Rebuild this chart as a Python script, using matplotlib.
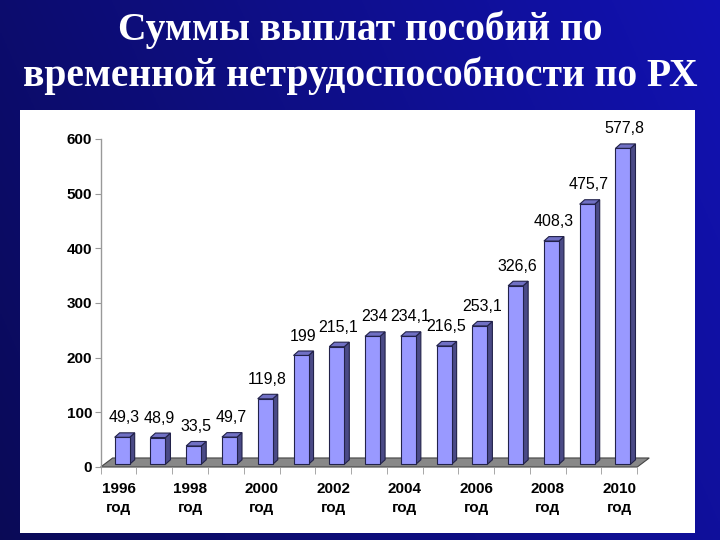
import numpy as np
import matplotlib
matplotlib.use("Agg")
import matplotlib.pyplot as plt
from matplotlib.patches import Polygon, Rectangle

years = ["1996", "1997", "1998", "1999", "2000", "2001", "2002", "2003",
         "2004", "2005", "2006", "2007", "2008", "2009", "2010"]
values = [49.3, 48.9, 33.5, 49.7, 119.8, 199, 215.1, 234, 234.1, 216.5,
          253.1, 326.6, 408.3, 475.7, 577.8]
labels = ["49,3", "48,9", "33,5", "49,7", "119,8", "199", "215,1", "234",
          "234,1", "216,5", "253,1", "326,6", "408,3", "475,7", "577,8"]
title = "Суммы выплат пособий по\nвременной нетрудоспособности по РХ"

W, H = 720, 540
fig = plt.figure(figsize=(7.2, 5.4), dpi=100)

# slide background
bg = fig.add_axes([0, 0, 1, 1], zorder=-10)
gx = np.linspace(0, 1, 300)
gy = np.linspace(0, 1, 200)
GX, GY = np.meshgrid(gx, gy)
t = np.clip(0.75 * GX + 0.25 * (1 - GY), 0, 1)
c0 = np.array([0.04, 0.04, 0.34])
c1 = np.array([0.07, 0.07, 0.70])
img = c0[None, None, :] * (1 - t[..., None]) + c1[None, None, :] * t[..., None]
bg.imshow(img, extent=[0, 1, 0, 1], aspect="auto", origin="upper")
bg.set_xlim(0, 1)
bg.set_ylim(0, 1)
bg.axis("off")
bg.add_patch(Rectangle((20 / W, 1 - 533 / H), 675 / W, 423 / H,
                       facecolor="white", edgecolor="none"))

fig.text(0.5, 1 - 53 / H, title, ha="center", va="center", color="white",
         fontsize=28.5, fontweight="bold", family="Liberation Serif",
         linespacing=1.25)

ax = fig.add_axes([100.7 / W, 1 - 467 / H, 547.3 / W, 328 / H])
ax.set_facecolor("none")
ax.set_xlim(-0.5, 14.8)
ax.set_ylim(0, 600)

# floor
fdx, fdy = 0.335, 16.5
ax.add_patch(Polygon([(-0.5, 0), (14.5, 0), (14.5 + fdx, fdy), (-0.5 + fdx, fdy)],
                     closed=True, facecolor="#888888", edgecolor="#444444",
                     lw=0.8, zorder=1, clip_on=False))

x = np.arange(len(values))
bw = 0.42
lift = 5
dx, dy = 0.14, 8.2
xc = x + 0.1
ax.bar(xc, values, width=bw, bottom=lift, color="#9999ff", edgecolor="#22224a",
       linewidth=0.8, zorder=3)
for xi, v, lab in zip(xc, values, labels):
    l, r = xi - bw / 2, xi + bw / 2
    top = v + lift
    ax.add_patch(Polygon([(r, lift), (r + dx, lift + dy), (r + dx, top + dy), (r, top)],
                         closed=True, facecolor="#4a4a86", edgecolor="#22224a",
                         lw=0.8, zorder=2, clip_on=False))
    ax.add_patch(Polygon([(l, top), (r, top), (r + dx, top + dy), (l + dx, top + dy)],
                         closed=True, facecolor="#7070c4", edgecolor="#22224a",
                         lw=0.8, zorder=2, clip_on=False))
    ax.annotate(lab, (xi + 0.05, top), xytext=(0, 14), textcoords="offset points",
                ha="center", va="center", fontsize=11.5, family="Liberation Sans",
                color="black", annotation_clip=False)

for s in ["top", "right", "bottom"]:
    ax.spines[s].set_visible(False)
ax.spines["left"].set_color("#999999")
ax.spines["left"].set_linewidth(1)

ax.set_yticks(range(0, 601, 100))
ax.tick_params(axis="y", length=4, color="#999999", pad=2)
for tl in ax.get_yticklabels():
    tl.set_fontsize(11)
    tl.set_fontweight("bold")
    tl.set_family("Liberation Sans")

ax.set_xticks(x[::2])
ax.set_xticklabels([y + "\nгод" for y in years[::2]], fontsize=11,
                   fontweight="bold", family="Liberation Sans", linespacing=1.45)
ax.set_xticks(np.arange(-0.5, 15, 1), minor=True)
ax.tick_params(axis="x", which="major", length=0, pad=11)
ax.tick_params(axis="x", which="minor", length=5, color="#999999")

fig.savefig("out.png", dpi=100)
